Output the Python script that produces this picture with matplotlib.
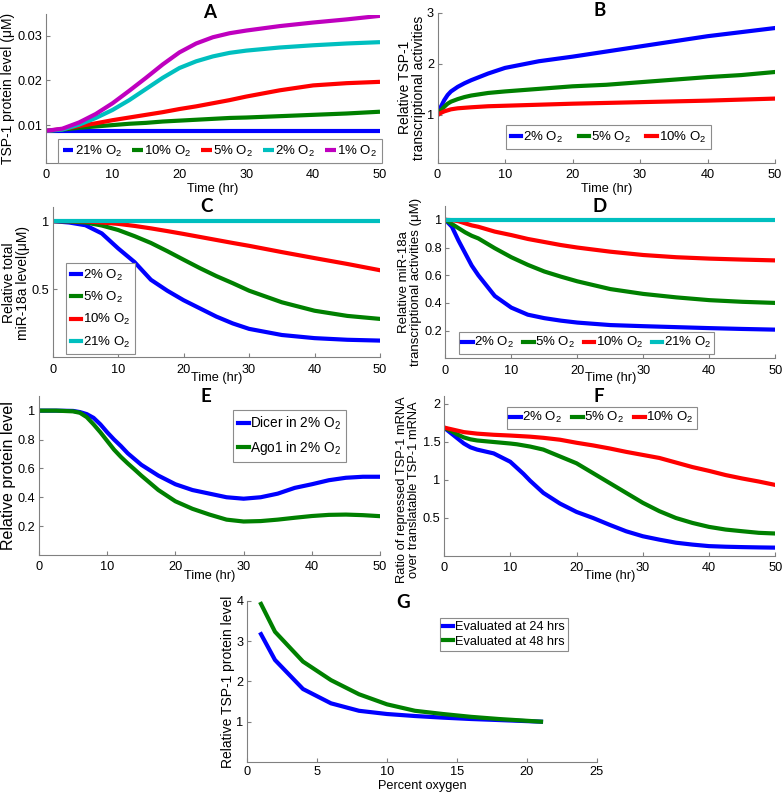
import matplotlib
matplotlib.use("Agg")
import matplotlib.pyplot as plt

plt.rcParams['font.family'] = ['Liberation Sans', 'DejaVu Sans']
plt.rcParams['mathtext.fontset'] = 'custom'
plt.rcParams['mathtext.rm'] = 'Liberation Sans'
plt.rcParams['mathtext.it'] = 'Liberation Sans:italic'
plt.rcParams['mathtext.bf'] = 'Liberation Sans:bold'

# ---------------- data ----------------
# Panel A: TSP-1 protein level (uM)
tA = [0, 2.5, 5, 7.5, 10, 12.5, 15, 17.5, 20, 22.5, 25, 27.5, 30, 35, 40, 45, 50]
A_21 = [0.0087] * 17
A_10 = [0.0087, 0.0090, 0.0094, 0.0097, 0.0100, 0.0103, 0.0105, 0.0108, 0.0110, 0.0112, 0.0114, 0.0116, 0.0117, 0.0120, 0.0123, 0.0126, 0.0130]
A_5 = [0.0087, 0.0091, 0.0098, 0.0104, 0.0111, 0.0117, 0.0123, 0.0129, 0.0136, 0.0142, 0.0149, 0.0156, 0.0164, 0.0178, 0.0189, 0.0194, 0.0197]
A_2 = [0.0087, 0.0090, 0.0101, 0.0116, 0.0134, 0.0156, 0.0181, 0.0206, 0.0228, 0.0243, 0.0254, 0.0262, 0.0267, 0.0274, 0.0279, 0.0283, 0.0286]
A_1 = [0.0087, 0.0092, 0.0106, 0.0125, 0.0149, 0.0177, 0.0206, 0.0236, 0.0263, 0.0283, 0.0297, 0.0306, 0.0312, 0.0322, 0.0330, 0.0337, 0.0345]

# Panel B: relative TSP-1 transcriptional activities
tB = [0, 0.5, 1, 1.5, 2, 3, 4, 5, 7.5, 10, 15, 20, 25, 30, 35, 40, 45, 50]
B_2 = [1.0, 1.16, 1.29, 1.39, 1.46, 1.55, 1.62, 1.68, 1.81, 1.92, 2.05, 2.14, 2.24, 2.34, 2.44, 2.54, 2.62, 2.70]
B_5 = [1.0, 1.09, 1.16, 1.22, 1.26, 1.31, 1.35, 1.38, 1.43, 1.46, 1.51, 1.56, 1.59, 1.64, 1.69, 1.74, 1.78, 1.84]
B_10 = [1.0, 1.04, 1.07, 1.09, 1.11, 1.13, 1.14, 1.15, 1.17, 1.18, 1.20, 1.22, 1.235, 1.25, 1.265, 1.28, 1.30, 1.32]

# Panel C: relative total miR-18a level
tC = [0, 2.5, 5, 7.5, 10, 12.5, 15, 17.5, 20, 22.5, 25, 27.5, 30, 35, 40, 45, 50]
C_2 = [1, 0.99, 0.97, 0.91, 0.80, 0.70, 0.57, 0.49, 0.42, 0.36, 0.30, 0.25, 0.21, 0.165, 0.142, 0.13, 0.124]
C_5 = [1, 0.998, 0.99, 0.968, 0.935, 0.89, 0.84, 0.78, 0.717, 0.655, 0.597, 0.545, 0.49, 0.405, 0.343, 0.305, 0.283]
C_10 = [1, 1, 0.998, 0.99, 0.98, 0.965, 0.947, 0.927, 0.906, 0.884, 0.862, 0.84, 0.819, 0.773, 0.729, 0.686, 0.64]
C_21 = [1] * 17

# Panel D: relative miR-18a transcriptional activities
tD = [0, 1, 2, 3, 4, 5, 7.5, 10, 12.5, 15, 17.5, 20, 25, 30, 35, 40, 45, 50]
D_2 = [1, 0.95, 0.85, 0.76, 0.67, 0.60, 0.45, 0.366, 0.315, 0.29, 0.272, 0.258, 0.24, 0.232, 0.225, 0.218, 0.212, 0.207]
D_5 = [1, 0.97, 0.94, 0.91, 0.885, 0.866, 0.795, 0.73, 0.675, 0.627, 0.59, 0.556, 0.50, 0.465, 0.44, 0.42, 0.408, 0.40]
D_10 = [1, 0.998, 0.99, 0.975, 0.96, 0.95, 0.915, 0.89, 0.862, 0.84, 0.818, 0.80, 0.77, 0.746, 0.73, 0.72, 0.713, 0.707]
D_21 = [1] * 18

# Panel E: relative protein level
tE = [0, 2.5, 5, 6, 7, 8, 9, 10, 11, 12, 13, 14, 15, 17.5, 20, 22.5, 25, 27.5, 30, 32.5, 35, 37.5, 40, 42.5, 45, 47.5, 50]
E_dicer = [1, 1, 0.998, 0.99, 0.976, 0.95, 0.905, 0.85, 0.80, 0.755, 0.705, 0.665, 0.625, 0.55, 0.49, 0.45, 0.425, 0.40, 0.39, 0.40, 0.425, 0.465, 0.49, 0.518, 0.535, 0.542, 0.542]
E_ago1 = [1, 1, 0.995, 0.985, 0.955, 0.905, 0.85, 0.79, 0.73, 0.68, 0.635, 0.593, 0.55, 0.45, 0.372, 0.32, 0.28, 0.245, 0.232, 0.235, 0.245, 0.258, 0.27, 0.278, 0.28, 0.276, 0.269]

# Panel F: ratio of repressed over translatable TSP-1 mRNA
tF = [0, 1, 2, 3, 4, 5, 7.5, 10, 11, 12, 13, 15, 17.5, 20, 22.5, 25, 27.5, 30, 32.5, 35, 37.5, 40, 42.5, 45, 47.5, 50]
F_2 = [1.69, 1.62, 1.55, 1.48, 1.43, 1.40, 1.35, 1.24, 1.16, 1.08, 0.99, 0.83, 0.69, 0.58, 0.50, 0.41, 0.325, 0.26, 0.215, 0.175, 0.15, 0.13, 0.122, 0.117, 0.113, 0.11]
F_5 = [1.69, 1.65, 1.60, 1.56, 1.535, 1.52, 1.50, 1.48, 1.47, 1.455, 1.44, 1.40, 1.31, 1.22, 1.09, 0.96, 0.83, 0.70, 0.59, 0.50, 0.435, 0.383, 0.348, 0.326, 0.305, 0.296]
F_10 = [1.69, 1.67, 1.65, 1.63, 1.62, 1.61, 1.595, 1.585, 1.58, 1.575, 1.57, 1.555, 1.53, 1.49, 1.455, 1.415, 1.37, 1.33, 1.29, 1.23, 1.17, 1.12, 1.065, 1.02, 0.98, 0.935]

# Panel G: relative TSP-1 protein level vs oxygen
oxG = [1, 2, 4, 6, 8, 10, 12, 14, 16, 18, 21]
G_24 = [3.17, 2.53, 1.81, 1.455, 1.27, 1.19, 1.14, 1.10, 1.066, 1.04, 1.0]
G_48 = [3.92, 3.23, 2.49, 2.03, 1.68, 1.43, 1.27, 1.19, 1.12, 1.066, 1.0]

# ---------------- style ----------------
W, H = 784, 793
BLUE, GREEN, RED, CYAN, PURPLE = '#0000ff', '#008000', '#ff0000', '#00bfbf', '#bf00bf'
LW = 3.0
SPINE = '#808080'
TICKFS = 9.2
XLABFS = 9.2
YLABFS = 10

fig = plt.figure(figsize=(W / 100, H / 100), dpi=100)


def make_ax(l, r, t, b):
    ax = fig.add_axes([l / W, 1 - b / H, (r - l) / W, (b - t) / H])
    for s in ('top', 'right'):
        ax.spines[s].set_visible(False)
    for s in ('left', 'bottom'):
        ax.spines[s].set_color(SPINE)
        ax.spines[s].set_linewidth(0.8)
    ax.tick_params(direction='in', length=3, width=0.8, color=SPINE,
                   labelsize=TICKFS)
    ax.tick_params(axis='x', pad=4.5)
    ax.tick_params(axis='y', pad=2.5)
    return ax


def fig_legend(ax, handles, labels, x, y, ncol, fs=9.5, labelspacing=0.2,
               borderpad=0.35, columnspacing=0.75):
    leg = ax.legend(handles, labels, loc='upper left',
                    bbox_to_anchor=(x / W, 1 - y / H), bbox_transform=fig.transFigure,
                    ncol=ncol, frameon=True, fancybox=False, edgecolor='#8c8c8c',
                    framealpha=1, fontsize=fs, handlelength=0.8, handletextpad=0.12,
                    columnspacing=columnspacing, borderpad=borderpad, borderaxespad=0,
                    labelspacing=labelspacing)
    leg.get_frame().set_linewidth(0.8)
    return leg


def ylab(ax, text, xpix, ycen=None, fs=YLABFS):
    ax.set_ylabel(text, fontsize=fs, linespacing=1.05)
    ax.yaxis.label.set_verticalalignment('center')
    bb = ax.get_position()
    xa = (xpix / W - bb.x0) / bb.width
    if ycen is None:
        ya = 0.5
    else:
        ya = ((1 - ycen / H) - bb.y0) / bb.height
    ax.yaxis.set_label_coords(xa, ya)


def xlab(ax, text, ypix, fs=XLABFS):
    ax.set_xlabel(text, fontsize=fs)
    ax.xaxis.label.set_verticalalignment('center')
    bb = ax.get_position()
    ya = ((1 - ypix / H) - bb.y0) / bb.height
    ax.xaxis.set_label_coords(0.5, ya)


def title(text, x, y):
    fig.text(x / W, 1 - y / H, text, ha='center', va='center',
             fontsize=13.5, fontweight='bold', family=['Lato', 'DejaVu Sans'])


O2 = r' O$_2$'
time_ticks = [0, 10, 20, 30, 40, 50]

# ----- Panel A -----
ax = make_ax(45.7, 380, 14.5, 163)
hA = []
for y, c in zip([A_21, A_10, A_5, A_2, A_1], [BLUE, GREEN, RED, CYAN, PURPLE]):
    hA += ax.plot(tA, y, color=c, lw=LW, solid_capstyle='butt')
ax.set_xlim(0, 50)
ax.set_ylim(0.0015, 0.0348)
ax.set_xticks(time_ticks)
ax.set_yticks([0.01, 0.02, 0.03])
ax.set_yticklabels(['0.01', '0.02', '0.03'])
fig_legend(ax, hA, ['21%' + O2, '10%' + O2, '5%' + O2, '2%' + O2, '1%' + O2], 58, 139, 5)
ylab(ax, 'TSP-1 protein level (\u03bcM)', 8)
xlab(ax, 'Time (hr)', 189)
title('A', 210, 12)

# ----- Panel B -----
ax = make_ax(437.5, 775, 12.7, 163)
hB = []
for y, c in zip([B_2, B_5, B_10], [BLUE, GREEN, RED]):
    hB += ax.plot(tB, y, color=c, lw=LW)
ax.set_xlim(0, 50)
ax.set_ylim(0.06, 3.0)
ax.set_xticks(time_ticks)
ax.set_yticks([1, 2, 3])
fig_legend(ax, hB, ['2%' + O2, '5%' + O2, '10%' + O2], 506, 125, 3, columnspacing=1.2)
ylab(ax, 'Relative TSP-1\ntranscriptional activities', 412)
xlab(ax, 'Time (hr)', 189)
title('B', 600, 11)

# ----- Panel C -----
ax = make_ax(52.7, 380, 207.5, 357.5)
hC = []
for y, c in zip([C_2, C_5, C_10, C_21], [BLUE, GREEN, RED, CYAN]):
    hC += ax.plot(tC, y, color=c, lw=LW)
ax.set_xlim(0, 50)
ax.set_ylim(0, 1.1)
ax.set_xticks(time_ticks)
ax.set_yticks([0.5, 1])
ax.set_yticklabels(['0.5', '1'])
fig_legend(ax, hC, ['2%' + O2, '5%' + O2, '10%' + O2, '21%' + O2], 66, 263, 1,
           labelspacing=0.55)
ylab(ax, 'Relative total\nmiR-18a level(\u03bcM)', 16)
xlab(ax, 'Time (hr)', 378)
title('C', 207, 206)

# ----- Panel D -----
ax = make_ax(445.3, 775.3, 206, 358.3)
hD = []
for y, c in zip([D_2, D_5, D_10, D_21], [BLUE, GREEN, RED, CYAN]):
    hD += ax.plot(tD, y, color=c, lw=LW)
ax.set_xlim(0, 50)
ax.set_ylim(0, 1.1)
ax.set_xticks(time_ticks)
ax.set_yticks([0.2, 0.4, 0.6, 0.8, 1])
ax.set_yticklabels(['0.2', '0.4', '0.6', '0.8', '1'])
fig_legend(ax, hD, ['2%' + O2, '5%' + O2, '10%' + O2, '21%' + O2], 459, 332, 4,
           borderpad=0.25, columnspacing=0.65)
ylab(ax, 'Relative miR-18a\ntranscriptional activities (\u03bcM)', 410, fs=9.5)
xlab(ax, 'Time (hr)', 378)
title('D', 600, 206)

# ----- Panel E -----
ax = make_ax(39, 380, 396.2, 555)
hE = []
for y, c in zip([E_dicer, E_ago1], [BLUE, GREEN]):
    hE += ax.plot(tE, y, color=c, lw=LW)
ax.set_xlim(0, 50)
ax.set_ylim(0, 1.1)
ax.set_xticks(time_ticks)
ax.set_yticks([0.2, 0.4, 0.6, 0.8, 1])
ax.set_yticklabels(['0.2', '0.4', '0.6', '0.8', '1'])
fig_legend(ax, hE, ['Dicer in 2%' + O2, 'Ago1 in 2%' + O2], 233, 410, 1,
           fs=9.8, labelspacing=0.5)
ylab(ax, 'Relative protein level', 9, fs=11.5)
xlab(ax, 'Time (hr)', 576)
title('E', 206, 397)

# ----- Panel F -----
ax = make_ax(444, 775.3, 396.4, 556)
hF = []
for y, c in zip([F_2, F_5, F_10], [BLUE, GREEN, RED]):
    hF += ax.plot(tF, y, color=c, lw=LW)
ax.set_xlim(0, 50)
ax.set_ylim(0, 2.1)
ax.set_xticks(time_ticks)
ax.set_yticks([0.5, 1, 1.5, 2])
ax.set_yticklabels(['0.5', '1', '1.5', '2'])
fig_legend(ax, hF, ['2%' + O2, '5%' + O2, '10%' + O2], 507, 407, 3, borderpad=0.25)
ylab(ax, 'Ratio of repressed TSP-1 mRNA\nover translatable TSP-1 mRNA', 408, ycen=490, fs=9.3)
xlab(ax, 'Time (hr)', 576)
title('F', 599, 397)

# ----- Panel G -----
ax = make_ax(247, 597, 600.7, 762)
hG = []
for y, c in zip([G_24, G_48], [BLUE, GREEN]):
    hG += ax.plot(oxG, y, color=c, lw=LW)
ax.set_xlim(0, 25)
ax.set_ylim(0, 4)
ax.set_xticks([0, 5, 10, 15, 20, 25])
ax.set_yticks([1, 2, 3, 4])
ax.tick_params(axis='x', pad=3)
fig_legend(ax, hG, ['Evaluated at 24 hrs', 'Evaluated at 48 hrs'], 440, 618, 1,
           fs=9.2, labelspacing=0.2, borderpad=0.25)
ylab(ax, 'Relative TSP-1 protein level', 228)
xlab(ax, 'Percent oxygen', 785.5)
title('G', 403, 602)

fig.savefig('out.png', dpi=100)
